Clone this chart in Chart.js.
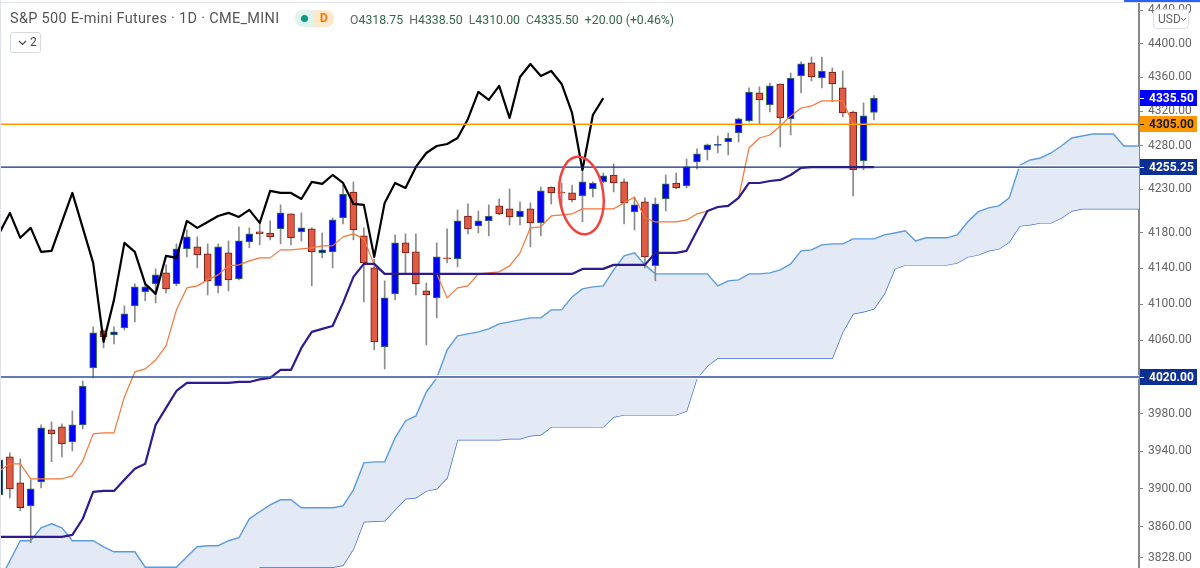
<!DOCTYPE html>
<html>
<head>
<meta charset="utf-8">
<title>S&amp;P 500 E-mini Futures</title>
<script src="https://cdn.jsdelivr.net/npm/chart.js@4"></script>
<style>
  html, body { margin: 0; padding: 0; background: #fff; }
  #wrap { position: relative; width: 1200px; height: 568px; overflow: hidden; font-family: Roboto, sans-serif; }
  canvas { position: absolute; left: 0; top: 0; }
  .top-line { position: absolute; left: 0; top: 2px; width: 1200px; height: 1px; background: #e0e3eb; }
  .top-active { position: absolute; left: 1124px; top: 0; width: 76px; height: 2px; background: #2962ff; }
  .left-line { position: absolute; left: 0; top: 0; width: 1px; height: 568px; background: #e0e3eb; }
  .title { position: absolute; left: 10px; top: 10px; font-size: 14.5px; line-height: 18px; color: #555; white-space: nowrap; letter-spacing: 0.3px; }
  .badge { position: absolute; left: 295px; top: 10px; width: 39px; height: 17px; border-radius: 8px; overflow: hidden; }
  .badge .l { position: absolute; left: 0; top: 0; width: 19px; height: 17px; background: #dff3ef; }
  .badge .l i { position: absolute; left: 6px; top: 5px; width: 7px; height: 7px; border-radius: 50%; background: #089981; }
  .badge .r { position: absolute; left: 19px; top: 0; width: 20px; height: 17px; background: #ffe8cc; color: #f57c00; font-size: 12px; font-weight: 700; line-height: 17px; text-align: center; }
  .ohlc { position: absolute; left: 350px; top: 11px; font-size: 12.3px; line-height: 18px; color: #35684c; white-space: nowrap; }
  .ohlc span { color: #666; }
  .ohlc b { font-weight: 400; margin-left: 6px; }
  .count { position: absolute; left: 10px; top: 32px; width: 29px; height: 19px; border: 1px solid #d6d8e0; border-radius: 3px; font-size: 12px; line-height: 19px; color: #444; }
  .count svg { position: absolute; left: 7px; top: 7px; }
  .count em { position: absolute; left: 19px; top: 0; font-style: normal; }
  .usd { position: absolute; left: 1153px; top: 9px; width: 34px; height: 18px; border: 1px solid #dcdee6; border-radius: 4px; background: #fff; font-size: 12px; line-height: 18px; color: #666; }
  .usd em { position: absolute; left: 4px; top: 0; font-style: normal; }
  .usd svg { position: absolute; left: 26px; top: 7px; }
</style>
</head>
<body>
<div id="wrap">
  <canvas id="grafico" width="1200" height="568"></canvas>
  <div class="top-line"></div>
  <div class="top-active"></div>
  <div class="left-line"></div>
  <div class="title">S&amp;P 500 E-mini Futures · 1D · CME_MINI</div>
  <div class="badge"><div class="l"><i></i></div><div class="r">D</div></div>
  <div class="ohlc"><span>O</span>4318.75<b><span>H</span>4338.50</b><b><span>L</span>4310.00</b><b><span>C</span>4335.50</b><b>+20.00 (+0.46%)</b></div>
  <div class="count"><svg width="9" height="6"><path d="M1 1 L4.5 4.5 L8 1" fill="none" stroke="#444" stroke-width="1.2"/></svg><em>2</em></div>
  <div class="usd"><em>USD</em><svg width="7" height="5"><path d="M1 1 L3.5 3.5 L6 1" fill="none" stroke="#666" stroke-width="1"/></svg></div>
</div>
<script>
const opens = [3893.6, 3933.9, 3906.3, 3882, 3907.4, 3962.8, 3966, 3950, 3968.2, 4029.9,
  4070.5, 4066.1, 4073.8, 4098.2, 4113.8, 4122.7, 4135, 4122.7, 4162, 4164.3,
  4156.4, 4120.5, 4157.5, 4128.3, 4170, 4181.2, 4180, 4184.6, 4201.6, 4181.2,
  4184.6, 4157.5, 4158.6, 4197, 4226.7, 4176.7, 4140.6, 4052.9, 4111.6, 4168.8,
  4158.6, 4114.9, 4107.1, 4151.9, 4150.7, 4199.3, 4188, 4193.7, 4210.8, 4207.4,
  4198.2, 4207.4, 4191.4, 4232.4, 4226.7, 4225.6, 4222.2, 4230.2, 4238.2, 4246.2,
  4238.2, 4203.9, 4215.3, 4143, 4218.7, 4237, 4233.6, 4261.2, 4275.1, 4280.3,
  4284.4, 4294.8, 4308.8, 4341.7, 4327.5, 4352.2, 4311.2, 4361.7, 4377.1, 4359.3,
  4366.4, 4347.6, 4319.3, 4262.4, 4318.75];
const closes = [3930.7, 3900, 3880, 3900, 3965, 3958.5, 3947.8, 3968.2, 4010.2, 4068.3,
  4063.9, 4069.4, 4089.4, 4119.4, 4119.4, 4132.8, 4117.1, 4162, 4175.6, 4155.2,
  4126.1, 4164.3, 4127.2, 4171, 4179, 4179, 4175.6, 4202.8, 4174.5, 4185.8,
  4158.6, 4160.9, 4194.8, 4224.4, 4183.5, 4146.2, 4058.4, 4107.1, 4168.8, 4157.5,
  4122.7, 4110.4, 4153, 4150.7, 4193.7, 4184.6, 4193.7, 4199.3, 4201.6, 4198.2,
  4205, 4191.4, 4227.9, 4225.6, 4225.6, 4217.6, 4238.2, 4237, 4245.1, 4237,
  4214.2, 4211.9, 4153, 4213, 4235.9, 4231.3, 4255.5, 4270.5, 4280.9, 4281.5,
  4289, 4311.2, 4342.8, 4333.4, 4349.9, 4312.3, 4359.3, 4375.9, 4360.5, 4367.6,
  4352.2, 4318.2, 4252, 4314.7, 4335.5];
const highs = [3933.9, 3938.2, 3931.8, 3909.5, 3968.2, 3971.4, 3969.2, 3983.2, 4015.7, 4074.9,
  4071.6, 4074.9, 4098.2, 4122.7, 4121.6, 4139.5, 4144, 4167.7, 4183.5, 4175.6,
  4167.7, 4167.7, 4171, 4186.9, 4185.8, 4192.5, 4193.7, 4211.9, 4201.6, 4202.8,
  4185.8, 4180, 4197, 4234.7, 4238.2, 4185.8, 4150.7, 4126.1, 4177.8, 4179,
  4179, 4123.8, 4168.8, 4184.6, 4206.2, 4213, 4205, 4211.9, 4218.7, 4230.2,
  4215.3, 4214.2, 4232.4, 4232.4, 4237, 4234.7, 4252, 4238.2, 4248.5, 4258.9,
  4241.7, 4219.9, 4219.9, 4219.9, 4246.2, 4248.5, 4264.7, 4276.3, 4282, 4291.3,
  4294.8, 4312.3, 4347.6, 4348.8, 4353.4, 4352.2, 4365.2, 4378.3, 4384.2, 4384.2,
  4371.2, 4367.6, 4320.5, 4329.9, 4338.5];
const lows = [3889.5, 3890.5, 3876.9, 3843.4, 3901, 3928.6, 3933.9, 3940.3, 3963.9, 4019,
  4051.8, 4056.2, 4071.6, 4080.5, 4103.8, 4101.6, 4112.7, 4120.5, 4153, 4140.6,
  4110.4, 4112.7, 4114.9, 4127.2, 4163.2, 4166.6, 4172.2, 4167.7, 4166.6, 4171,
  4120.5, 4152, 4140.6, 4190.3, 4172.2, 4102.7, 4049.6, 4028.8, 4104.9, 4135,
  4110.4, 4055.1, 4084.9, 4146.2, 4141.8, 4179, 4180, 4176.7, 4200.5, 4189.2,
  4189.2, 4164.3, 4176.7, 4213, 4205, 4215.3, 4192.5, 4221, 4237, 4226.7,
  4190.3, 4183.5, 4140.6, 4126.1, 4205, 4230.2, 4231.3, 4253.2, 4263.5, 4271.6,
  4269.3, 4284.4, 4307.6, 4305.3, 4319.3, 4278.6, 4292.5, 4341.7, 4355.8, 4347.6,
  4331.1, 4313.5, 4222.2, 4252, 4310];

const lagging = [4180, 4202.8, 4174.5, 4185.8, 4158.6, 4159.8, 4192.5, 4225.6, 4185.8, 4146.2,
  4058.4, 4104.9, 4168.8, 4158.6, 4122.7, 4111.6, 4154.1, 4151.9, 4193.7, 4185.8,
  4192.5, 4199.3, 4202.8, 4198.2, 4206.2, 4191.4, 4227.9, 4225.6, 4225.6, 4218.7,
  4238.2, 4235.9, 4246.2, 4237, 4213, 4211.9, 4153, 4214.2, 4237, 4231.3,
  4255.5, 4271.6, 4279.7, 4282, 4289, 4311.2, 4342.8, 4333.4, 4349.9, 4312.3,
  4360.5, 4375.9, 4361.7, 4367.6, 4352.2, 4318.2, 4252, 4315.8, 4335.5];
const tenkan = [3919, 3926.5, 3926.5, 3910.6, 3910.6, 3910.6, 3910.6, 3913.7, 3929.6, 3958.5,
  3959.6, 3959.6, 3998.3, 4025.5, 4028.8, 4038.6, 4054, 4093.8, 4118.2, 4120.5,
  4127.2, 4132.8, 4142.9, 4144, 4148.5, 4151.9, 4151.9, 4160.9, 4160.9, 4162,
  4163.2, 4165.4, 4165.4, 4175.6, 4179, 4173.3, 4144, 4133.9, 4133.9, 4133.9,
  4133.9, 4133.9, 4133.9, 4107.1, 4118.2, 4120.5, 4133.9, 4135, 4136.2, 4142.9,
  4157.5, 4185.8, 4186.9, 4199.3, 4200.5, 4201.6, 4207.4, 4207.4, 4207.4, 4207.4,
  4214.2, 4221, 4197, 4192.5, 4192.5, 4192.5, 4194.8, 4201.6, 4205, 4209.5,
  4210.8, 4219.9, 4277.4, 4289, 4292.5, 4303, 4314.7, 4324, 4326.4, 4332.3,
  4332.3, 4332.3, 4305, 4305, 4305];
const kijun = [3849.6, 3849.6, 3849.6, 3849.6, 3849.6, 3849.6, 3849.6, 3851.7, 3868.5, 3896.8,
  3897.8, 3897.8, 3909.5, 3921.2, 3926.5, 3968.2, 3986.5, 4004.8, 4013.5, 4013.5,
  4013.5, 4013.5, 4013.5, 4014.6, 4014.6, 4017.4, 4019, 4027.7, 4027.7, 4051.8,
  4069.4, 4072.7, 4076, 4101.6, 4130.6, 4145.1, 4145.1, 4133.9, 4133.9, 4133.9,
  4133.9, 4133.9, 4133.9, 4133.9, 4133.9, 4133.9, 4133.9, 4133.9, 4133.9, 4133.9,
  4133.9, 4133.9, 4133.9, 4133.9, 4133.9, 4133.9, 4139.5, 4139.5, 4139.5, 4144,
  4144, 4144, 4144, 4157.5, 4157.5, 4157.5, 4159.8, 4182.4, 4205, 4209.5,
  4210.8, 4219.9, 4237, 4237, 4239.3, 4240.5, 4246.2, 4254.3, 4255.25, 4255.25,
  4255.25, 4255.25, 4255.25, 4255.25, 4255.25];
const spanA = [3804, 3824.7, 3845.5, 3845.5, 3859, 3863.2, 3859, 3845.5, 3845.5, 3845.5,
  3839.2, 3834, 3834, 3834, 3818, 3818, 3818, 3818, 3828.8, 3839.2,
  3840.3, 3840.3, 3845.5, 3848.6, 3868.4, 3875.8, 3883.1, 3888.4, 3888.4, 3880,
  3880, 3880, 3880, 3882, 3898.9, 3927.5, 3928.6, 3928.6, 3954.2, 3972.4,
  3977.8, 4003.7, 4019, 4049.6, 4065, 4067.2, 4069.4, 4072.7, 4078.3, 4080.5,
  4082.7, 4084.9, 4084.9, 4093.8, 4093.8, 4108.2, 4117.1, 4119.4, 4120.5, 4138.4,
  4154.1, 4157.5, 4144, 4133.9, 4133.9, 4133.9, 4133.9, 4133.9, 4133.9, 4120.5,
  4126.1, 4127.2, 4133.9, 4133.9, 4135, 4138.4, 4145.1, 4159.8, 4160.9, 4166.6,
  4167.7, 4167.7, 4173.3, 4173.3, 4173.3, 4177.8, 4180, 4182.4, 4171, 4174.5,
  4174.5, 4174.5, 4177.8, 4192.5, 4203.9, 4208.5, 4210.8, 4219.9, 4257.2, 4263.5,
  4265.8, 4271.6, 4279.7, 4289, 4291.3, 4293.6, 4293.6, 4293.6, 4279.7, 4279.7,
  4279.7];
// the first 25 values sit below the visible range, so they are only a guess
const spanB = [3795, 3795, 3795, 3795, 3795, 3795, 3795, 3795, 3795, 3795,
  3795, 3795, 3795, 3795, 3795, 3795, 3795, 3795, 3795, 3795,
  3795, 3795, 3795, 3795, 3795, 3818, 3818, 3818, 3818, 3818,
  3818, 3818, 3818, 3820, 3837, 3865.3, 3865.8, 3866.3, 3877.9, 3889.5,
  3890.5, 3897.8, 3900, 3911.6, 3952.1, 3952.1, 3952.1, 3952.1, 3952.1, 3953.2,
  3953.2, 3956.4, 3957.5, 3966, 3966, 3966, 3966, 3966, 3966, 3976.7,
  3978.9, 3978.9, 3978.9, 3978.9, 3978.9, 3978.9, 3983.2, 4019, 4032, 4040.8,
  4040.8, 4040.8, 4040.8, 4040.8, 4040.8, 4040.8, 4040.8, 4040.8, 4040.8, 4040.8,
  4040.8, 4069.4, 4089.4, 4091.6, 4094.9, 4111.6, 4139.5, 4144, 4144, 4144,
  4144, 4144, 4146.2, 4153, 4155.2, 4159.8, 4162, 4169.9, 4188, 4189.2,
  4191.4, 4191.4, 4197, 4205, 4207.4, 4207.4, 4207.4, 4207.4, 4207.4, 4207.4,
  4207.4];

const priceTicks = [4440, 4400, 4360, 4320, 4280, 4230, 4180, 4140, 4100, 4060, 4020, 3980, 3940, 3900, 3860, 3828];
const levelOrange = 4305;
const levelNavy = 4255.25;
const levelLow = 4020;
const lastClose = 4335.5;
const circledBar = 55.9;
const circledPrice = 4222.7;

const axisMinX = 0.05;
const axisMaxX = 109.46;
const axisMinY = 3817.2;
const axisMaxY = 4452.4;

function pontos(valores) {
  return valores.map((v, i) => ({ x: i, y: v }));
}

function linha(label, valores, cor, largura, ordem) {
  return {
    type: 'line', label, data: pontos(valores), borderColor: cor, borderWidth: largura,
    pointRadius: 0, tension: 0, fill: false, order: ordem, borderJoinStyle: 'round'
  };
}

function nivel(label, valor, cor, largura, ordem) {
  return {
    type: 'line', label, data: [{ x: axisMinX, y: valor }, { x: axisMaxX, y: valor }],
    borderColor: cor, borderWidth: largura, pointRadius: 0, order: ordem
  };
}

const corpoCor = closes.map((c, i) => (c >= opens[i] ? '#0000f5' : '#e05a44'));
const bordaCor = closes.map((c, i) => (c >= opens[i] ? '#3f7d3f' : '#6e1a10'));

const etiquetas = [
  { valor: lastClose, fundo: '#0000ff', texto: '#ffffff' },
  { valor: levelOrange, fundo: '#ff9800', texto: '#1a1a1a' },
  { valor: levelNavy, fundo: '#0c2f93', texto: '#ffffff' },
  { valor: levelLow, fundo: '#0c2f93', texto: '#ffffff' }
];

const anotacoes = {
  id: 'anotacoes',
  afterDatasetsDraw(chart) {
    const { ctx, scales } = chart;
    ctx.save();
    ctx.beginPath();
    ctx.ellipse(scales.x.getPixelForValue(circledBar), scales.y.getPixelForValue(circledPrice), 22, 39, -0.12, 0, Math.PI * 2);
    ctx.strokeStyle = '#f4433f';
    ctx.lineWidth = 2.5;
    ctx.stroke();
    ctx.restore();
  },
  afterDraw(chart) {
    const { ctx, scales } = chart;
    ctx.save();
    ctx.font = '700 12px Roboto, sans-serif';
    ctx.textBaseline = 'middle';
    ctx.textAlign = 'left';
    etiquetas.forEach(e => {
      const y = scales.y.getPixelForValue(e.valor);
      ctx.fillStyle = e.fundo;
      ctx.fillRect(1140, Math.round(y) - 8, 57, 16);
      ctx.fillStyle = e.texto;
      ctx.fillRect(1140, Math.round(y), 4, 1);
      ctx.fillText(e.valor.toFixed(2), 1149, Math.round(y) + 0.5);
    });
    ctx.restore();
  }
};

new Chart(document.getElementById('grafico'), {
  data: {
    datasets: [
      {
        type: 'line', label: 'Senkou A', data: pontos(spanA), borderColor: '#5a9be0', borderWidth: 1.4,
        backgroundColor: '#e4eaf5', pointRadius: 0, tension: 0, fill: '+1', order: 7
      },
      {
        type: 'line', label: 'Senkou B', data: pontos(spanB), borderColor: '#3d6ad6', borderWidth: 1.4,
        pointRadius: 0, tension: 0, fill: false, order: 7
      },
      // pale edge the levels leave where they cross the cloud
      nivel('halo 4255', levelNavy, '#ffffff', 3.5, 6),
      nivel('halo 4020', levelLow, '#ffffff', 3.5, 6),
      {
        type: 'bar', label: 'Wicks', data: lows.map((l, i) => ({ x: i, y: [l, highs[i]] })),
        backgroundColor: '#8a8a8a', barThickness: 1, grouped: false, order: 5
      },
      {
        type: 'bar', label: 'Candles', data: opens.map((o, i) => ({ x: i, y: [o, closes[i]] })),
        backgroundColor: corpoCor, borderColor: bordaCor, borderWidth: 1, borderSkipped: false,
        barThickness: 7, grouped: false, order: 4
      },
      linha('Tenkan', tenkan, '#f4763a', 1.2, 3),
      linha('Kijun', kijun, '#2f1a8f', 2.2, 2),
      linha('Chikou', lagging, '#000000', 2.2, 2),
      nivel('4305', levelOrange, '#ff9800', 1.3, 1),
      nivel('4255', levelNavy, '#0f2a85', 1.3, 1),
      nivel('4020', levelLow, '#2f4f9f', 1.3, 1)
    ]
  },
  options: {
    responsive: false,
    animation: false,
    layout: { padding: 0 },
    plugins: { legend: { display: false }, tooltip: { enabled: false } },
    scales: {
      x: { type: 'linear', min: axisMinX, max: axisMaxX, display: false, offset: false },
      y: {
        type: 'logarithmic', position: 'right', min: axisMinY, max: axisMaxY,
        afterBuildTicks: s => { s.ticks = priceTicks.map(v => ({ value: v })); },
        afterFit: s => {
          s.width = 61;
          s.paddingTop = 0;
          s.paddingBottom = 0;
        },
        grid: { drawOnChartArea: false, drawTicks: true, tickLength: 4, tickColor: '#888888' },
        border: { display: true, color: '#888888', width: 2 },
        ticks: {
          autoSkip: false, maxRotation: 0, padding: 5, color: '#666666',
          font: { family: 'Roboto, sans-serif', size: 12 },
          callback: v => Number(v).toFixed(2)
        }
      }
    }
  },
  plugins: [anotacoes]
});
</script>
</body>
</html>
